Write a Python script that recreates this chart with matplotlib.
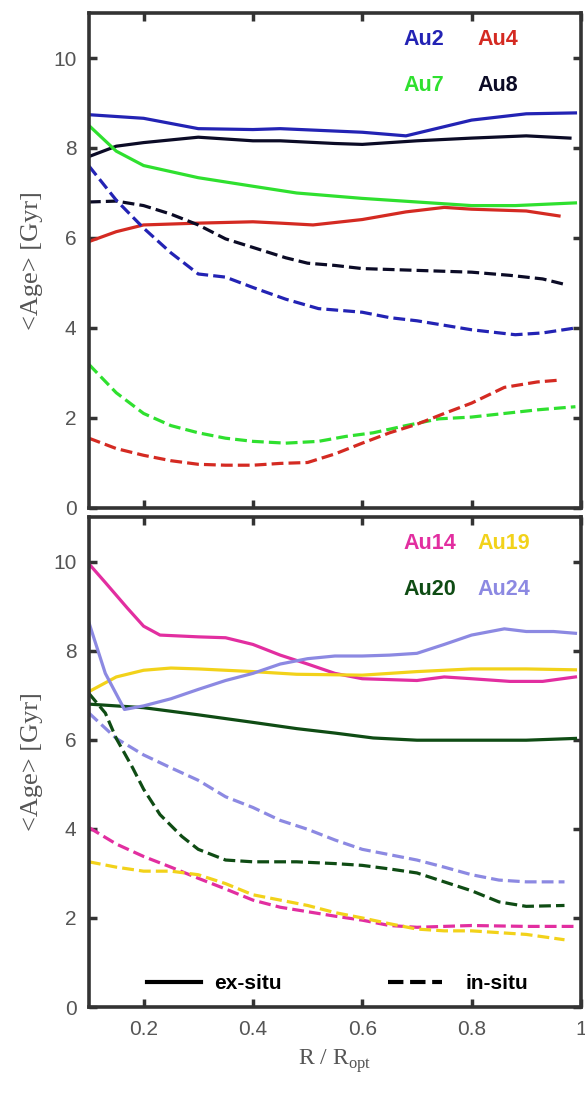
import numpy as np
import matplotlib.pyplot as plt
from matplotlib.lines import Line2D

""" Data (read off the picture) """
# top panel
x_au2 = [0.1, 0.2, 0.3, 0.4, 0.45, 0.6, 0.68, 0.8, 0.9, 0.99]
y_au2 = [8.74, 8.66, 8.43, 8.41, 8.43, 8.35, 8.27, 8.62, 8.76, 8.78]
x_au8 = [0.1, 0.15, 0.2, 0.3, 0.4, 0.45, 0.55, 0.6, 0.7, 0.8, 0.9, 0.98]
y_au8 = [7.81, 8.04, 8.12, 8.24, 8.16, 8.16, 8.1, 8.08, 8.16, 8.22, 8.27, 8.22]
x_au7 = [0.1, 0.15, 0.2, 0.3, 0.4, 0.48, 0.6, 0.7, 0.8, 0.88, 0.99]
y_au7 = [8.5, 7.93, 7.61, 7.34, 7.15, 7.0, 6.88, 6.8, 6.72, 6.72, 6.78]
x_au4 = [0.1, 0.15, 0.2, 0.3, 0.4, 0.45, 0.51, 0.6, 0.68, 0.75, 0.8, 0.9, 0.96]
y_au4 = [5.92, 6.14, 6.29, 6.33, 6.36, 6.33, 6.29, 6.41, 6.58, 6.68, 6.64, 6.6, 6.49]

xd_au8 = [0.1, 0.15, 0.2, 0.25, 0.3, 0.35, 0.4, 0.46, 0.5, 0.55, 0.6, 0.7, 0.8, 0.87, 0.93, 0.97]
yd_au8 = [6.8, 6.82, 6.72, 6.53, 6.29, 5.98, 5.79, 5.56, 5.44, 5.39, 5.32, 5.28, 5.24, 5.17, 5.09, 4.97]
xd_au2 = [0.1, 0.15, 0.2, 0.25, 0.3, 0.35, 0.4, 0.46, 0.52, 0.6, 0.65, 0.7, 0.75, 0.8, 0.88, 0.93, 0.99]
yd_au2 = [7.6, 6.84, 6.22, 5.67, 5.2, 5.13, 4.9, 4.64, 4.43, 4.35, 4.23, 4.16, 4.06, 3.96, 3.85, 3.89, 4.0]
xd_au7 = [0.1, 0.15, 0.2, 0.25, 0.3, 0.35, 0.4, 0.46, 0.52, 0.57, 0.62, 0.68, 0.74, 0.8, 0.86, 0.92, 0.99]
yd_au7 = [3.19, 2.56, 2.1, 1.83, 1.67, 1.55, 1.48, 1.44, 1.48, 1.59, 1.67, 1.83, 1.98, 2.02, 2.1, 2.18, 2.25]
xd_au4 = [0.1, 0.15, 0.2, 0.25, 0.3, 0.35, 0.4, 0.45, 0.5, 0.55, 0.6, 0.65, 0.7, 0.75, 0.8, 0.86, 0.92, 0.96]
yd_au4 = [1.55, 1.32, 1.17, 1.05, 0.97, 0.95, 0.95, 0.99, 1.01, 1.2, 1.44, 1.67, 1.86, 2.1, 2.33, 2.68, 2.8, 2.84]

# bottom panel
x_au14 = [0.1, 0.13, 0.17, 0.2, 0.23, 0.3, 0.35, 0.4, 0.45, 0.5, 0.55, 0.6, 0.7, 0.75, 0.8, 0.87, 0.93, 0.99]
y_au14 = [9.95, 9.53, 8.96, 8.55, 8.35, 8.31, 8.29, 8.14, 7.9, 7.7, 7.49, 7.37, 7.33, 7.41, 7.37, 7.31, 7.31, 7.41]
x_au19 = [0.1, 0.15, 0.2, 0.25, 0.3, 0.4, 0.48, 0.6, 0.7, 0.8, 0.9, 0.99]
y_au19 = [7.08, 7.41, 7.56, 7.61, 7.59, 7.53, 7.47, 7.45, 7.53, 7.59, 7.59, 7.57]
x_au20 = [0.1, 0.15, 0.2, 0.3, 0.4, 0.48, 0.55, 0.62, 0.7, 0.8, 0.9, 0.99]
y_au20 = [6.8, 6.76, 6.72, 6.56, 6.39, 6.25, 6.15, 6.04, 5.99, 5.99, 5.99, 6.03]
x_au24 = [0.1, 0.13, 0.165, 0.2, 0.25, 0.3, 0.35, 0.4, 0.45, 0.5, 0.55, 0.6, 0.65, 0.7, 0.75, 0.8, 0.86, 0.9, 0.95, 0.99]
y_au24 = [8.63, 7.49, 6.68, 6.76, 6.92, 7.13, 7.33, 7.49, 7.7, 7.82, 7.88, 7.88, 7.9, 7.94, 8.14, 8.35, 8.49, 8.43, 8.43, 8.39]

xd_au20 = [0.1, 0.13, 0.15, 0.18, 0.2, 0.23, 0.27, 0.3, 0.35, 0.4, 0.48, 0.55, 0.6, 0.65, 0.7, 0.75, 0.8, 0.85, 0.9, 0.97]
yd_au20 = [7.04, 6.6, 6.03, 5.37, 4.89, 4.32, 3.83, 3.54, 3.3, 3.26, 3.26, 3.22, 3.18, 3.1, 3.01, 2.81, 2.61, 2.36, 2.26, 2.28]
xd_au24 = [0.1, 0.15, 0.2, 0.25, 0.3, 0.35, 0.4, 0.45, 0.5, 0.55, 0.6, 0.65, 0.7, 0.75, 0.8, 0.85, 0.9, 0.97]
yd_au24 = [6.6, 6.03, 5.66, 5.37, 5.09, 4.72, 4.48, 4.19, 3.99, 3.75, 3.54, 3.42, 3.3, 3.14, 2.97, 2.85, 2.81, 2.81]
xd_au14 = [0.1, 0.15, 0.2, 0.25, 0.3, 0.35, 0.4, 0.45, 0.5, 0.55, 0.6, 0.65, 0.7, 0.8, 0.9, 0.99]
yd_au14 = [4.03, 3.66, 3.38, 3.14, 2.89, 2.65, 2.4, 2.24, 2.14, 2.04, 1.95, 1.83, 1.79, 1.83, 1.81, 1.81]
xd_au19 = [0.1, 0.15, 0.2, 0.25, 0.3, 0.35, 0.4, 0.45, 0.5, 0.55, 0.6, 0.65, 0.7, 0.75, 0.8, 0.85, 0.9, 0.97]
yd_au19 = [3.26, 3.14, 3.05, 3.05, 2.97, 2.77, 2.52, 2.4, 2.28, 2.12, 2.0, 1.87, 1.75, 1.71, 1.71, 1.67, 1.63, 1.51]

top_names = ['Au2', 'Au4', 'Au7', 'Au8']
bot_names = ['Au14', 'Au19', 'Au20', 'Au24']

""" Style """
c = {'Au2': '#2323b4', 'Au4': '#d42a22', 'Au7': '#2fe02f', 'Au8': '#0b0b26',
     'Au14': '#e22ea0', 'Au19': '#f2d21a', 'Au20': '#0f4c14', 'Au24': '#8c89e2'}
lw = 2.3
spine_c = '#333333'
tick_c = '#555555'

plt.rcParams['font.family'] = ['Liberation Sans', 'DejaVu Sans']
plt.rcParams['mathtext.fontset'] = 'custom'
plt.rcParams['mathtext.rm'] = 'Liberation Serif'

fig = plt.figure(figsize=(5.85, 10.94), dpi=100)
ax1 = fig.add_axes([0.152, 0.5357, 0.841, 0.4524])
ax2 = fig.add_axes([0.152, 0.0795, 0.841, 0.4479])

# top panel
ax1.plot(x_au2, y_au2, color=c['Au2'], lw=lw)
ax1.plot(x_au8, y_au8, color=c['Au8'], lw=lw)
ax1.plot(x_au7, y_au7, color=c['Au7'], lw=lw)
ax1.plot(x_au4, y_au4, color=c['Au4'], lw=lw)
ax1.plot(xd_au8, yd_au8, '--', color=c['Au8'], lw=lw)
ax1.plot(xd_au2, yd_au2, '--', color=c['Au2'], lw=lw)
ax1.plot(xd_au7, yd_au7, '--', color=c['Au7'], lw=lw)
ax1.plot(xd_au4, yd_au4, '--', color=c['Au4'], lw=lw)

# bottom panel
ax2.plot(x_au14, y_au14, color=c['Au14'], lw=lw)
ax2.plot(x_au19, y_au19, color=c['Au19'], lw=lw)
ax2.plot(x_au20, y_au20, color=c['Au20'], lw=lw)
ax2.plot(x_au24, y_au24, color=c['Au24'], lw=lw)
ax2.plot(xd_au24, yd_au24, '--', color=c['Au24'], lw=lw)
ax2.plot(xd_au20, yd_au20, '--', color=c['Au20'], lw=lw)
ax2.plot(xd_au14, yd_au14, '--', color=c['Au14'], lw=lw)
ax2.plot(xd_au19, yd_au19, '--', color=c['Au19'], lw=lw)

# coloured name labels
for ax, names in ((ax1, top_names), (ax2, bot_names)):
    pos = [(0.64, 0.946), (0.79, 0.946), (0.64, 0.853), (0.79, 0.853)]
    for name, (px, py) in zip(names, pos):
        ax.text(px, py, name, transform=ax.transAxes, color=c[name],
                fontsize=15.5, fontweight='bold', va='center', ha='left')

# ex-situ / in-situ keys
h_ex = [Line2D([], [], color='black', lw=3, ls='-')]
h_in = [Line2D([], [], color='black', lw=3, ls='--')]
leg1 = ax2.legend(h_ex, ['ex-situ'], loc='lower left', bbox_to_anchor=(0.08, -0.01),
                  frameon=False, handlelength=2.6, handletextpad=0.6,
                  prop={'weight': 'bold', 'size': 15})
ax2.add_artist(leg1)
ax2.legend(h_in, ['in-situ'], loc='lower left', bbox_to_anchor=(0.57, -0.01),
           frameon=False, handlelength=2.6, handletextpad=1.1,
           prop={'weight': 'bold', 'size': 15})

for ax in (ax1, ax2):
    ax.set_xlim(0.1, 1.0)
    ax.set_ylim(0, 11)
    ax.set_xticks([0.2, 0.4, 0.6, 0.8, 1.0])
    ax.set_xticklabels(['0.2', '0.4', '0.6', '0.8', '1'])
    ax.set_yticks([0, 2, 4, 6, 8, 10])
    ax.tick_params(direction='in', top=True, right=True, length=6, width=2.5,
                   color=spine_c, labelcolor=tick_c, labelsize=15, pad=9)
    for s in ax.spines.values():
        s.set_linewidth(2.6)
        s.set_color(spine_c)
    ax.set_ylabel('<Age> [Gyr]', family='Liberation Serif', fontsize=19,
                  color=tick_c, labelpad=7)

ax1.tick_params(labelbottom=False)
ax2.set_xlabel(r'R / R$_{\rm opt}$', family='Liberation Serif', fontsize=17,
               color=tick_c, labelpad=6)

plt.savefig('out.png', dpi=100)
